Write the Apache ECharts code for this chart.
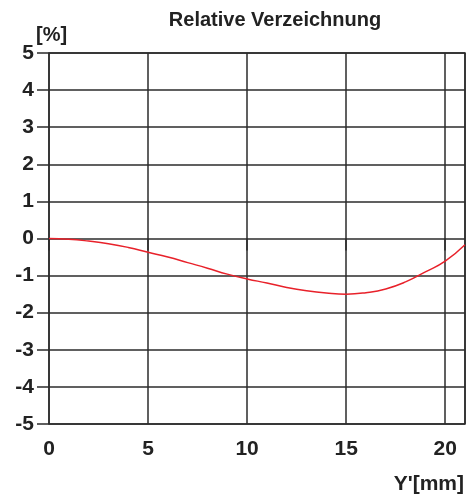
<!DOCTYPE html>
<html>
<head>
<meta charset="utf-8">
<script src="https://cdn.jsdelivr.net/npm/echarts@6/dist/echarts.min.js"></script>
<style>html,body{margin:0;padding:0;background:#fff}#c{width:468px;height:501px}</style>
</head>
<body>
<div id="c"></div>
<script>
const xValues = [0,1,2,3,4,5,6,7,8,9,10,11,12,13,14,15,16,17,18,19,20,21];
const distortion = [0,-0.02,-0.07,-0.14,-0.24,-0.37,-0.5,-0.65,-0.8,-0.96,-1.09,-1.2,-1.32,-1.41,-1.47,-1.5,-1.46,-1.36,-1.17,-0.9,-0.61,-0.17];
const titleText = 'Relative Verzeichnung';
const xAxisName = "Y'[mm]";
const yAxisName = '[%]';

const FONT = '"Liberation Sans", Arial, sans-serif';
const chart = echarts.init(document.getElementById('c'), null, {renderer:'canvas'});
const lineColor = '#2b2b2b';
chart.setOption({
  animation:false,
  backgroundColor:'#fff',
  title:{text:titleText,left:270,top:5,textAlign:'center',textStyle:{fontFamily:FONT,fontWeight:'bold',fontSize:20,color:'#222'}},
  grid:{left:49,right:3,top:53,bottom:77,show:true,borderColor:lineColor,borderWidth:1.5,containLabel:false},
  xAxis:{type:'value',min:0,max:21,interval:5,
    axisLine:{show:false},
    axisTick:{show:true,length:12,lineStyle:{color:lineColor,width:1.5}},
    splitLine:{show:true,lineStyle:{color:lineColor,width:1.5}},
    axisLabel:{showMaxLabel:false,fontFamily:FONT,fontWeight:'bold',fontSize:21,color:'#222',margin:15}
  },
  yAxis:{type:'value',min:-5,max:5,interval:1,
    axisLine:{show:false},
    axisTick:{show:true,length:12,lineStyle:{color:lineColor,width:1.5}},
    splitLine:{show:true,lineStyle:{color:lineColor,width:1.5}},
    axisLabel:{fontFamily:FONT,fontWeight:'bold',fontSize:21,color:'#222',margin:15}
  },
  graphic:[
    {type:'text',left:36,top:25,style:{text:yAxisName,fontFamily:FONT,fontWeight:'bold',fontSize:20,fill:'#222'}},
    {type:'text',right:4,top:474,style:{text:xAxisName,fontFamily:FONT,fontWeight:'bold',fontSize:21,fill:'#222'}}
  ],
  series:[{type:'line',data:xValues.map((x,i)=>[x,distortion[i]]),smooth:true,showSymbol:false,
    lineStyle:{color:'#e8212a',width:1.5}}]
});
</script>
</body>
</html>
